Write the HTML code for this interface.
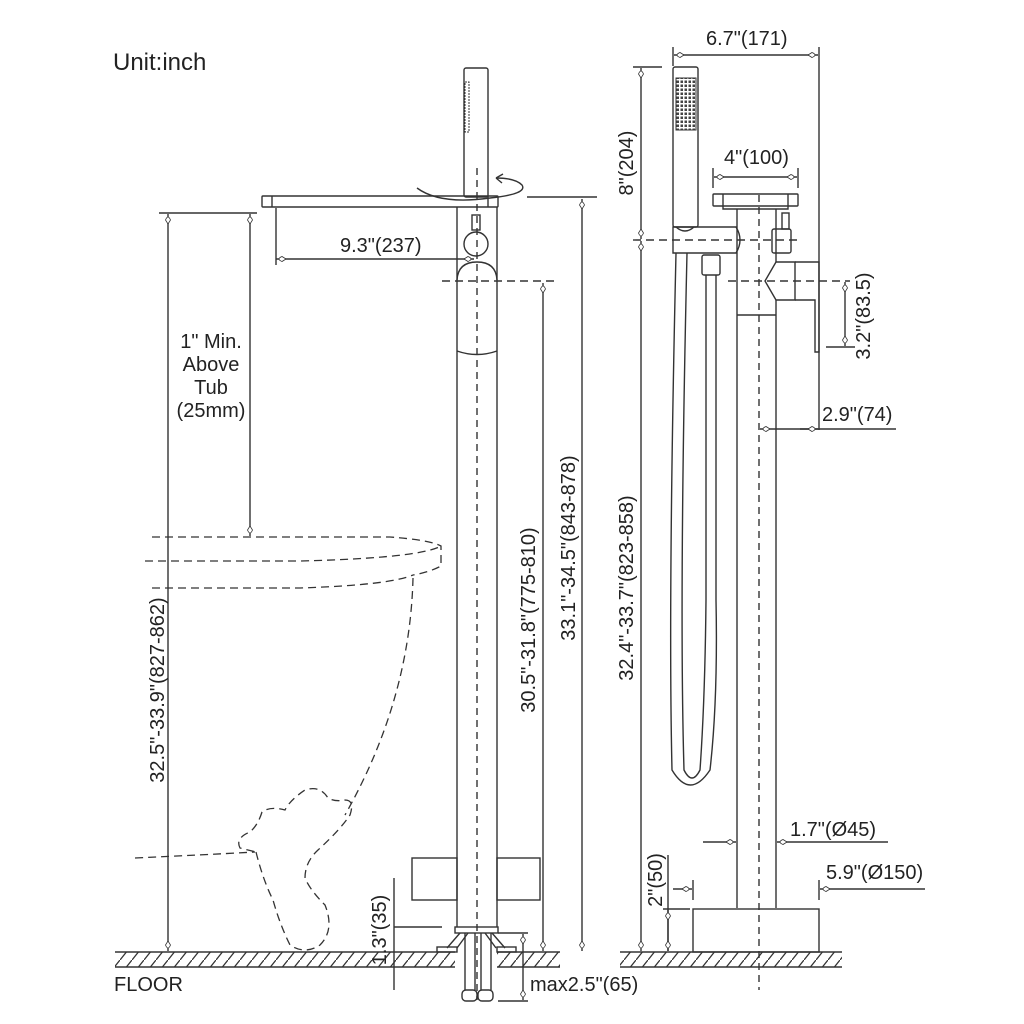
<!DOCTYPE html>
<html><head><meta charset="utf-8"><style>
html,body{margin:0;padding:0;background:#fff}
svg{display:block}
text{font-family:"Liberation Sans",sans-serif;fill:#222;font-size:20px}
</style></head><body>
<svg width="1024" height="1024" viewBox="0 0 1024 1024" xmlns="http://www.w3.org/2000/svg">
<defs>
<pattern id="h" width="12" height="15" patternUnits="userSpaceOnUse"><line x1="0" y1="15" x2="12" y2="0" stroke="#333" stroke-width="1.3"/></pattern>
<pattern id="d" width="4" height="4" patternUnits="userSpaceOnUse"><rect x="0.5" y="0.5" width="2.5" height="2.5" fill="#444"/></pattern>
<marker id="a" viewBox="0 0 10 6" refX="10" refY="3" markerWidth="10" markerHeight="6" orient="auto-start-reverse" markerUnits="userSpaceOnUse"><path d="M0,3 L4,0.5 Q10,3 4,5.5 Z" fill="#fff" stroke="#333" stroke-width="0.8"/></marker>
</defs>
<g fill="none" stroke="#333" stroke-width="1.4">
<text x="113" y="70" style="font-size:24px" stroke="none">Unit:inch</text>

<!-- floor -->
<rect x="115" y="952" width="340" height="15" fill="url(#h)" stroke="none"/>
<rect x="497" y="952" width="63" height="15" fill="url(#h)" stroke="none"/>
<rect x="620" y="952" width="222" height="15" fill="url(#h)" stroke="none"/>
<path d="M115 952H455M497 952H560M115 967H455M497 967H560M620 952H842M620 967H842"/>
<text x="114" y="991" stroke="none">FLOOR</text>

<!-- LEFT faucet -->
<path d="M477 168V1000" stroke-dasharray="7,5"/>
<rect x="464" y="68" width="24" height="129" rx="2"/>
<rect x="465" y="82" width="4" height="50" stroke-width="1" stroke-dasharray="2,1"/>
<rect x="262" y="196" width="236" height="11" rx="1"/>
<path d="M272 196V207M488 196V207"/>
<path d="M417 188 Q440 205 490 198 Q528 194 522 185 Q515 178 496 178"/>
<path d="M496 178l7 -4M496 178l6 5"/>
<path d="M457 207V927M497 207V927"/>
<rect x="472" y="215" width="8" height="15"/>
<circle cx="476" cy="244" r="12"/>
<path d="M457 280 Q458 262 477 262 Q496 262 497 280"/>
<path d="M457 351 Q477 358 497 351"/>
<path d="M442 281H556" stroke-dasharray="8,5"/>
<rect x="412" y="858" width="45" height="42"/><rect x="497" y="858" width="43" height="42"/>
<rect x="455" y="927" width="43" height="6"/>
<path d="M460 933L447 948M468 933L457 948M492 933L505 948M485 933L496 948"/>
<rect x="437" y="947" width="20" height="5"/><rect x="497" y="947" width="19" height="5"/>
<path d="M465 933V990M475 933V990M481 933V990M491 933V990"/>
<rect x="462" y="990" width="15" height="11" rx="4"/><rect x="478" y="990" width="15" height="11" rx="4"/>
<!-- dims left -->
<path d="M276 208V265"/><path d="M276 259H474" marker-start="url(#a)" marker-end="url(#a)"/>
<text x="340" y="252" stroke="none">9.3"(237)</text>
<path d="M527 197H597"/><path d="M582 199V951" marker-start="url(#a)" marker-end="url(#a)"/>
<path d="M543 283V951" marker-start="url(#a)" marker-end="url(#a)"/>
<text transform="translate(575,548) rotate(-90)" text-anchor="middle" stroke="none">33.1"-34.5"(843-878)</text>
<text transform="translate(535,620) rotate(-90)" text-anchor="middle" stroke="none">30.5"-31.8"(775-810)</text>
<path d="M159 213H257"/>
<path d="M168 214V951" marker-start="url(#a)" marker-end="url(#a)"/>
<path d="M250 214V536" marker-start="url(#a)" marker-end="url(#a)"/>
<g stroke="none" text-anchor="middle"><text x="211" y="348">1" Min.</text><text x="211" y="371">Above</text><text x="211" y="394">Tub</text><text x="211" y="417">(25mm)</text></g>
<text transform="translate(164,690) rotate(-90)" text-anchor="middle" stroke="none">32.5"-33.9"(827-862)</text>
<path d="M394 878V990M394 927H442"/>
<text transform="translate(386,930) rotate(-90)" text-anchor="middle" stroke="none">1.3"(35)</text>
<path d="M498 933H528M498 1001H528"/><path d="M523 934V1000" marker-start="url(#a)" marker-end="url(#a)"/>
<text x="530" y="991" stroke="none">max2.5"(65)</text>
<!-- tub dashed -->
<g stroke-dasharray="8,5" stroke-width="1.3">
<path d="M152 537H390 Q430 540 441 546V566 Q430 572 413 575"/>
<path d="M145 561H300 Q420 558 441 546"/>
<path d="M152 588H300 Q390 585 413 575"/>
<path d="M413 578 Q410 700 345 815"/>
<path d="M135 858 Q200 855 255 852"/>
<path d="M256 852 Q263 880 273 900 Q280 925 290 945 Q305 955 320 945 Q335 930 325 905 Q310 890 305 878 Q305 862 318 850 Q340 830 350 815 Q355 800 345 800 Q335 802 328 798 Q320 785 305 790 Q290 800 285 810 Q270 806 262 812 Q258 825 250 832 Q235 838 240 848 Z"/>
</g>

<!-- RIGHT view -->
<path d="M759 195V990" stroke-dasharray="7,5"/>
<rect x="673" y="67" width="25" height="160" rx="2"/>
<rect x="676" y="78" width="20" height="52" stroke-width="1" fill="url(#d)"/>
<path d="M673 227H736 Q744 240 736 253H673Z"/>
<path d="M676 227 Q685 235 694 227"/>
<path d="M633 240H800" stroke-dasharray="8,5"/>
<rect x="713" y="194" width="85" height="12" rx="1"/>
<path d="M723 194V206M788 194V206M723 206V209H788V206"/>
<path d="M737 209V908M776 209V262M776 300V908M737 315H776"/>
<rect x="782" y="213" width="7" height="16"/>
<rect x="772" y="229" width="19" height="24" rx="2"/>
<path d="M776 262L765 281L776 300H795V262Z"/>
<path d="M795 262H819V352H815V300H795"/>
<rect x="702" y="255" width="18" height="20" rx="2"/>
<path d="M706 275V600 Q705 700 700 770 Q692 786 684 770 Q679 600 687 253M676 253 Q668 600 672 770 Q690 800 710 770 Q718 700 716 600V275"/>
<path d="M728 281H850" stroke-dasharray="8,5"/>
<rect x="693" y="909" width="126" height="43"/>
<!-- dims right -->
<path d="M673 47V66M819 47V430"/><path d="M674 55H818" marker-start="url(#a)" marker-end="url(#a)"/>
<text x="706" y="45" stroke="none">6.7"(171)</text>
<path d="M713 168V188M798 168V188"/><path d="M714 177H797" marker-start="url(#a)" marker-end="url(#a)"/>
<text x="724" y="164" stroke="none">4"(100)</text>
<path d="M633 67H662"/><path d="M641 68V239" marker-start="url(#a)" marker-end="url(#a)"/>
<path d="M641 241V951" marker-start="url(#a)" marker-end="url(#a)"/>
<text transform="translate(633,163) rotate(-90)" text-anchor="middle" stroke="none">8"(204)</text>
<text transform="translate(633,588) rotate(-90)" text-anchor="middle" stroke="none">32.4"-33.7"(823-858)</text>
<path d="M826 347H855"/><path d="M845 282V346" marker-start="url(#a)" marker-end="url(#a)"/>
<text transform="translate(870,316) rotate(-90)" text-anchor="middle" stroke="none">3.2"(83.5)</text>
<path d="M760 429H896" marker-start="url(#a)"/><path d="M800 429H818" marker-end="url(#a)"/>
<text x="822" y="421" stroke="none">2.9"(74)</text>
<path d="M703 842H736" marker-end="url(#a)"/><path d="M888 842H777" marker-end="url(#a)"/>
<text x="790" y="836" stroke="none">1.7"(Ø45)</text>
<path d="M819 880V900"/><path d="M925 889H820" marker-end="url(#a)"/>
<text x="826" y="879" stroke="none">5.9"(Ø150)</text>
<path d="M693 880V900"/><path d="M673 889H692" marker-end="url(#a)"/>
<path d="M663 909H690M668 855V951"/><path d="M668 910V951" marker-start="url(#a)" marker-end="url(#a)"/>
<text transform="translate(662,880) rotate(-90)" text-anchor="middle" stroke="none">2"(50)</text>
</g>
</svg>
</body></html>
